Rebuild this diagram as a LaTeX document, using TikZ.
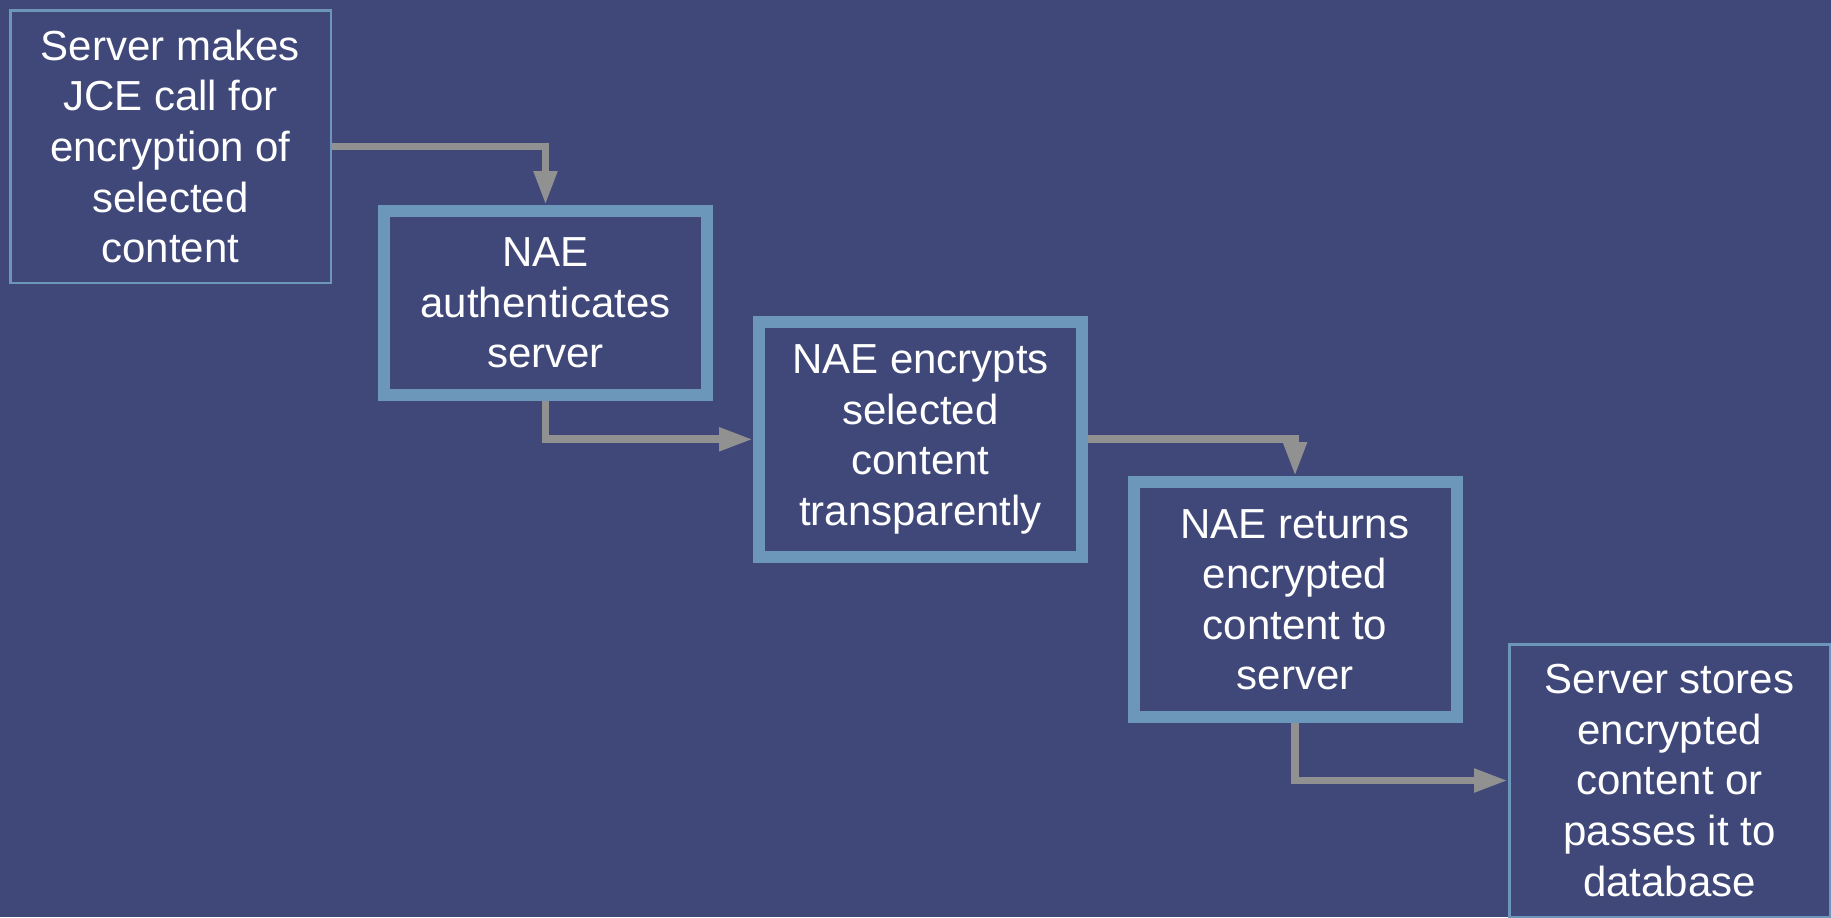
\documentclass[tikz,border=0pt]{standalone}
\usepackage{fontspec}
\setmainfont{Liberation Sans}
\usepackage{tikz}
\usetikzlibrary{positioning,arrows.meta}
\definecolor{slidebg}{RGB}{64,72,122}
\definecolor{boxline}{RGB}{108,150,186}
\definecolor{flowgray}{RGB}{145,145,145}
\tikzstyle{endbox} = [rectangle, minimum width=160.25pt, minimum height=136.25pt, inner sep=0pt, align=center, draw=boxline, line width=1.25pt, fill=slidebg, text=white, font=\fontsize{21pt}{25.3pt}\selectfont]
\tikzstyle{naebox} = [rectangle, minimum width=161.5pt, inner sep=0pt, align=center, draw=boxline, line width=6pt, fill=slidebg, text=white, font=\fontsize{21pt}{25.3pt}\selectfont]
\tikzstyle{flow} = [draw=flowgray, line width=3.9pt, -{Triangle[length=17pt,width=11pt]}]

\begin{document}
\begin{tikzpicture}[on grid]
	\useasboundingbox (0,0) rectangle (915.5pt,-458.5pt);
	\fill[slidebg] (0,0) rectangle (915.5pt,-458.5pt);

	\node (ServerCall) [endbox] at (85.25pt,-73.25pt) {Server makes\\JCE call for\\encryption of\\selected\\content};
	\node (NaeAuth) [naebox, minimum height=92pt, below right=78.25pt and 187.5pt of ServerCall] {NAE\\authenticates\\server};
	\node (NaeEncrypt) [naebox, minimum height=117.5pt, below right=68.15pt and 187.5pt of NaeAuth] {NAE encrypts\\selected\\content\\transparently};
	\node (NaeReturn) [naebox, minimum height=117.5pt, below right=80.2pt and 187.25pt of NaeEncrypt] {NAE returns\\encrypted\\content to\\server};
	\node (ServerStore) [endbox, below right=90.4pt and 187.25pt of NaeReturn] {Server stores\\encrypted\\content or\\passes it to\\database};

	\draw[flow] (ServerCall) -| (NaeAuth);
	\draw[flow] (NaeAuth) |- (NaeEncrypt);
	\draw[flow] (NaeEncrypt) -| (NaeReturn);
	\draw[flow] (NaeReturn) |- (ServerStore);
\end{tikzpicture}
\end{document}
